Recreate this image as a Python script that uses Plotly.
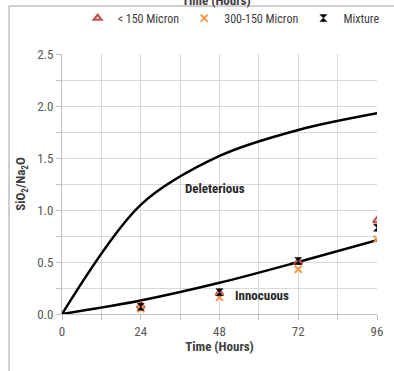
import plotly.graph_objects as go

# Exposure time (hours) for the measured samples
hours = [24, 48, 72, 96]
fine_lt150 = [0.08, 0.20, 0.50, 0.90]      # < 150 Micron
coarse_300_150 = [0.05, 0.16, 0.43, 0.72]  # 300-150 Micron
mixture = [0.07, 0.21, 0.51, 0.83]         # Mixture

# Boundary curves
curve_hours = [0, 24, 48, 72, 96]
deleterious = [0.0, 1.05, 1.52, 1.77, 1.93]
innocuous = [0.0, 0.13, 0.30, 0.50, 0.71]

x_ticks = [0, 12, 24, 36, 48, 60, 72, 84, 96]
x_labels = ["0", "", "24", "", "48", "", "72", "", "96"]
y_ticks = [0, 0.25, 0.5, 0.75, 1.0, 1.25, 1.5, 1.75, 2.0, 2.25, 2.5]
y_labels = ["0.0", "", "0.5", "", "1.0", "", "1.5", "", "2.0", "", "2.5"]

FONT = "Liberation Sans Narrow, Roboto Condensed, Arial Narrow, sans-serif"

fig = go.Figure()

fig.add_trace(go.Scatter(x=curve_hours, y=deleterious, mode="lines",
                         line=dict(color="black", width=2.5, shape="spline", smoothing=0.9),
                         showlegend=False, hoverinfo="skip"))
fig.add_trace(go.Scatter(x=curve_hours, y=innocuous, mode="lines",
                         line=dict(color="black", width=2.5, shape="spline", smoothing=0.9),
                         showlegend=False, hoverinfo="skip"))

fig.add_trace(go.Scatter(x=hours, y=fine_lt150, mode="markers", name="< 150 Micron",
                         marker=dict(symbol="triangle-up", size=7, color="#F2DCDB",
                                     line=dict(width=2, color="#C0504D"))))
fig.add_trace(go.Scatter(x=hours, y=coarse_300_150, mode="markers", name="300-150 Micron",
                         marker=dict(symbol="x-thin-open", size=7, color="#F79646",
                                     line=dict(width=2, color="#F79646"))))
fig.add_trace(go.Scatter(x=hours, y=mixture, mode="markers", name="Mixture",
                         marker=dict(symbol="hourglass", size=7, color="black",
                                     line=dict(width=0.5, color="black"))))

fig.update_layout(
    width=394, height=371,
    margin=dict(l=62, r=17, t=54, b=57, autoexpand=False),
    paper_bgcolor="white", plot_bgcolor="white",
    font=dict(family=FONT, size=13, color="#595959"),
    legend=dict(orientation="h", x=0.537, xanchor="center", y=1.138, yanchor="middle",
                font=dict(family=FONT, size=12, color="#404040"),
                itemwidth=30, tracegroupgap=0, bgcolor="rgba(0,0,0,0)"),
    xaxis=dict(range=[0, 96], tickvals=x_ticks, ticktext=x_labels,
               showgrid=True, gridcolor="#D9D9D9", gridwidth=1,
               showline=True, linecolor="#BFBFBF", linewidth=1,
               ticks="outside", ticklen=5, tickcolor="#BFBFBF",
               zeroline=False, tickfont=dict(size=13, color="#595959"),
               title=dict(text="<b>Time (Hours)</b>", standoff=4,
                          font=dict(size=13, color="#404040"))),
    yaxis=dict(range=[0, 2.5], tickvals=y_ticks, ticktext=y_labels,
               showgrid=True, gridcolor="#D9D9D9", gridwidth=1,
               showline=True, linecolor="#BFBFBF", linewidth=1,
               ticks="outside", ticklen=5, tickcolor="#BFBFBF",
               zeroline=False, tickfont=dict(size=13, color="#595959"),
               title=dict(text="<b>SiO<sub>2</sub>/Na<sub>2</sub>O</b>", standoff=8,
                          font=dict(size=13, color="#404040"))),
    showlegend=True,
)

# Region labels
fig.add_annotation(x=46.6, y=1.21, text="<b>Deleterious</b>", showarrow=False,
                   font=dict(family=FONT, size=13, color="#262626"))
fig.add_annotation(x=61, y=0.18, text="<b>Innocuous</b>", showarrow=False,
                   font=dict(family=FONT, size=13, color="#262626"))

# Caption of the panel above, mostly outside the page
fig.add_annotation(xref="paper", yref="paper", x=0.49, y=314 / 260, yanchor="middle",
                   text="<b>Time (Hours)</b>", showarrow=False,
                   font=dict(family=FONT, size=13, color="#404040"))

# Chart frame edges
fig.add_shape(type="line", xref="paper", yref="paper",
              x0=(9 - 62) / 315, x1=(9 - 62) / 315, y0=(314 - 371) / 260, y1=(314 - 6) / 260,
              line=dict(color="#BFBFBF", width=1.5))
fig.add_shape(type="line", xref="paper", yref="paper",
              x0=(9 - 62) / 315, x1=(394 - 62) / 315, y0=(314 - 6) / 260, y1=(314 - 6) / 260,
              line=dict(color="#BFBFBF", width=1.5))

fig.write_html("out.html")
